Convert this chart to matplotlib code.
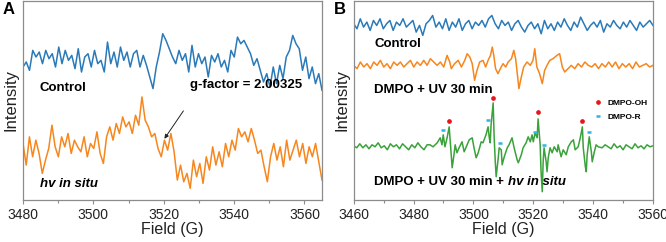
import numpy as np
import matplotlib
matplotlib.use("Agg")
import matplotlib.pyplot as plt
from matplotlib.lines import Line2D

plt.rcParams['font.family'] = ['Liberation Sans', 'DejaVu Sans']

# ---------------- data (arbitrary intensity units) ----------------
A_FIELD_RANGE = (3480, 3565)
A_CONTROL = [-15, 0, -25, 35, 15, 30, -5, 35, 10, 25, -15, 45, -5, 35, 5, 20, -20, 40, -30, 15,
             25, -15, 35, -5, 5, -30, 60, -5, 30, -15, 45, 5, 30, -15, 25, 35, -15, 20, -10, -45,
             -80, -15, 30, 85, 65, 40, 15, -5, 35, 5, 25, -30, 50, -15, 25, -5, 15, -45, 20, 0,
             25, -15, 5, -30, 35, 15, 75, 55, 65, 45, 25, -10, 10, -25, -60, -35, -75, -15, -65, -10,
             -50, 15, 35, 80, 55, 40, -25, 15, -50, -15, -65, -35, -85]
A_HV = [20, -45, 40, -20, 30, -10, -70, -30, 5, 75, 10, -20, 40, 10, 50, -10, 30, 10, -5, 40,
        -20, 20, 5, 55, -10, -40, 40, 70, 30, 80, 50, 100, 70, 85, 50, 105, 75, 160, 90, 70,
        40, 50, 5, -20, 30, 0, 50, -5, -90, -45, -95, -70, -115, -30, -80, -40, -100, -20, -60, 10,
        -45, -5, -50, 20, -20, 30, 0, 65, 40, 55, 25, 65, 30, -10, 0, -50, -95, -20, 20, -30,
        10, -50, 30, -30, 0, 30, -20, 20, -40, 10, -20, 20, -35, -90]
A_GFACTOR_FIELD = 3520.2
A_GFACTOR_LABEL = "g-factor = 2.00325"

B_FIELD_RANGE = (3460, 3560)
B_CONTROL = [5, -10, 20, -5, 10, -15, 15, 0, 20, -10, 5, 15, -15, 10, 0, 20, -5, 5, 15, -20,
             0, -30, 5, 15, 30, -5, 10, -10, 20, -15, 10, -5, 20, -15, 5, 15, -10, 10, 0, 15,
             -5, 20, 30, 5, -10, 15, 0, 10, -15, 5, 15, -5, -20, 0, 10, -10, 5, -25, 15, -10,
             5, -15, 10, -5, 20, 0, -15, 10, -5, 25, 5, -15, 0, 10, -5, 15, -20, 5, -5, 15,
             0, -10, 10, -5, 15, 0, -15, 10, -5, 5, 15, 0]

B_UV_HEAD = [0, -10, 10, -5, 5, -10, 10, 0, 15, -5, 5, -10, 10, 0, 10, -5, 5, 15, -5, 10,
             0, 15, 0, 20, 10, 0, 10, -5, 30]
B_UV_HEAD_RANGE = (3460, 3491.2)
B_UV_MID_FIELD = [3492.1, 3492.6, 3493.7, 3494.9, 3496.0, 3497.1, 3497.9, 3498.8, 3499.6, 3500.4,
                  3501.2, 3502.1, 3503.2, 3504.1, 3504.9, 3505.7, 3506.3, 3506.8, 3507.4, 3508.2,
                  3509.0, 3509.9, 3510.8, 3511.6, 3512.7, 3513.5, 3514.1, 3514.6, 3515.2, 3516.0,
                  3516.8, 3517.9, 3519.0, 3519.9, 3520.5, 3521.2, 3522.1, 3523.0, 3523.8, 3524.6,
                  3525.5, 3526.6, 3527.9, 3528.8, 3529.7, 3530.5, 3531.6]
B_UV_MID = [10, -10, 5, 15, -5, 15, 35, 25, 5, -45, -15, 10, 15, -5, 15, 30, 55, 30, -10, -25,
            -10, 5, -5, 10, 20, 45, 20, -20, -70, -35, -5, 10, 0, 15, 50, -5, -25, -55, -15, 0,
            15, 20, 30, 35, -5, -20, -10]
B_UV_TAIL = [0, -10, 5, -5, 10, 0, -5, 5, -10, 5, -5, 10, -5, 10, -10, 5, -5, 5, -10, 10,
             -5, 0, 5, -5, 0]
B_UV_TAIL_RANGE = (3532.7, 3560)

B_HV_HEAD = [3, -3, 9, -3, 6, -6, 6, 0, 12, -3, 3, -9, 9, 0, 6, -6, 9, 0, -9, 6, -3, 12, 0, -9, 6]
B_HV_HEAD_RANGE = (3460, 3484.5)
B_HV_MID_FIELD = [3485.5, 3486.5, 3487.9, 3488.9, 3489.5, 3489.9, 3490.5, 3491.2, 3491.9, 3492.5,
                  3492.9, 3493.5, 3493.9, 3494.5, 3495.2, 3496.2, 3496.9, 3497.9, 3498.6, 3499.6,
                  3500.2, 3500.9, 3501.6, 3502.6, 3503.2, 3504.2, 3504.9, 3505.3, 3505.6, 3505.9,
                  3506.6, 3506.9, 3507.3, 3507.6, 3508.3, 3508.6, 3509.3, 3509.6, 3510.3, 3511.3,
                  3511.9, 3512.9, 3513.6, 3514.6, 3515.0, 3516.0, 3516.6, 3517.6, 3518.3, 3519.0,
                  3519.6, 3520.0, 3520.6, 3521.3, 3521.6, 3522.3, 3522.6, 3523.0, 3523.3, 3523.6,
                  3524.3, 3524.6, 3525.0, 3525.6, 3526.3, 3527.0, 3528.0, 3528.3, 3529.3, 3530.0,
                  3531.0, 3531.7, 3532.7, 3533.4, 3534.0, 3535.0, 3535.7, 3536.4, 3536.7, 3537.4,
                  3537.7, 3538.0, 3538.7, 3539.4, 3539.7, 3540.4, 3541.0, 3541.7]
B_HV_MID = [6, 0, 12, 27, 6, 36, 0, 27, 60, -15,
            -63, -24, 6, -18, -3, 15, -15, 6, 21, 27,
            -3, -33, -18, 15, 12, 36, 60, 27, 12, 66,
            132, 36, -45, -90, -33, -3, -9, -54, -30, -3,
            6, 27, -3, -39, -48, -24, -3, 12, 30, 15,
            36, 15, 42, 27, 84, 6, -75, -135, -45, -3,
            -45, -75, -33, -3, -18, 0, -15, 6, -30, -9,
            -24, 0, 15, 21, -9, 0, 27, 60, -3, -60,
            -75, -24, 30, -15, -45, -15, 6, 0]
B_HV_TAIL = [-3, 6, 0, -6, 9, -3, 3, -9, 6, 0, -6, 9, -3, 3, -6, 6, 0, 3]
B_HV_TAIL_RANGE = (3543, 3560)

OH_FIELD = [3491.9, 3506.6, 3521.6, 3536.4]
OH_LEVEL = [78, 147, 105, 78]
R_FIELD = [3489.9, 3504.9, 3508.9, 3520.6, 3523.6, 3538.7]
R_LEVEL = [51, 81, 12, 45, 6, 45]

# ---------------- style ----------------
BLUE = '#2a7ab9'
ORANGE = '#f7861c'
GREEN = '#3aa23a'
RED = '#e8161c'
CYAN = '#2fb4e6'
SPINE = '#8c8c8c'
TXT = 9.5

fig = plt.figure(figsize=(6.66, 2.42), dpi=100)
axA = fig.add_axes([23/666, 42/242, 299/666, 199.5/242])
axB = fig.add_axes([353.7/666, 42/242, 299.3/666, 199.5/242])


def style(ax, xlim, major, minor):
    ax.set_xlim(*xlim)
    ax.set_ylim(0, 600)
    ax.set_yticks([])
    ax.set_xticks(major)
    ax.set_xticks(minor, minor=True)
    for s in ax.spines.values():
        s.set_color(SPINE)
        s.set_linewidth(0.9)
    ax.tick_params(axis='x', which='major', direction='out', length=3, width=0.8,
                   color=SPINE, labelsize=10, pad=2.5, labelcolor='#222222')
    ax.tick_params(axis='x', which='minor', direction='out', length=2, width=0.8, color=SPINE)
    ax.set_xlabel('Field (G)', fontsize=11.5, labelpad=0, color='#222222')
    ax.set_ylabel('Intensity', fontsize=12, labelpad=3, color='#222222')


# Panel A
fa = np.linspace(*A_FIELD_RANGE, len(A_CONTROL))
fh = np.linspace(*A_FIELD_RANGE, len(A_HV))
axA.plot(fa, 415 + np.array(A_CONTROL), color=BLUE, lw=1.1)
axA.plot(fh, 150 + np.array(A_HV), color=ORANGE, lw=1.1)
style(axA, A_FIELD_RANGE, np.arange(3480, 3561, 20), np.arange(3490, 3565, 20))
axA.text(3484.8, 338, 'Control', fontsize=TXT, fontweight='bold', va='center', ha='left')
axA.text(3484.8, 48, 'hv in situ', fontsize=TXT, fontweight='bold', style='italic',
         va='center', ha='left')
gy = 150 + np.interp(A_GFACTOR_FIELD, fh, A_HV)
axA.annotate('', xy=(A_GFACTOR_FIELD, gy + 5), xytext=(3525.6, 268),
             arrowprops=dict(arrowstyle='-|>', color='#222222', lw=0.7,
                             mutation_scale=6, shrinkA=0, shrinkB=0))
axA.text(3527.4, 345, A_GFACTOR_LABEL, fontsize=TXT, fontweight='bold', va='center', ha='left')

# Panel B
fbc = np.linspace(*B_FIELD_RANGE, len(B_CONTROL))
axB.plot(fbc, 525 + np.array(B_CONTROL), color=BLUE, lw=1.1)
uv_f = np.concatenate([np.linspace(*B_UV_HEAD_RANGE, len(B_UV_HEAD)), B_UV_MID_FIELD,
                       np.linspace(*B_UV_TAIL_RANGE, len(B_UV_TAIL))])
uv_v = np.concatenate([B_UV_HEAD, B_UV_MID, B_UV_TAIL])
axB.plot(uv_f, 405 + uv_v, color=ORANGE, lw=1.1)
hv_f = np.concatenate([np.linspace(*B_HV_HEAD_RANGE, len(B_HV_HEAD)), B_HV_MID_FIELD,
                       np.linspace(*B_HV_TAIL_RANGE, len(B_HV_TAIL))])
hv_v = np.concatenate([B_HV_HEAD, B_HV_MID, B_HV_TAIL])
axB.plot(hv_f, 160 + hv_v, color=GREEN, lw=1.1)
axB.plot(OH_FIELD, 160 + np.array(OH_LEVEL), 'o', color=RED, ms=3.4, mec='none')
axB.plot(R_FIELD, 160 + np.array(R_LEVEL), '_', color=CYAN, ms=3.5, mew=1.8)
style(axB, B_FIELD_RANGE, np.arange(3460, 3561, 20), np.arange(3470, 3560, 20))

axB.text(3466.8, 470, 'Control', fontsize=TXT, fontweight='bold', va='center', ha='left')
axB.text(3466.8, 332, 'DMPO + UV 30 min', fontsize=TXT, fontweight='bold', va='center', ha='left')
t1 = axB.text(3466.8, 55, 'DMPO + UV 30 min + ', fontsize=TXT, fontweight='bold',
              va='center', ha='left')
axB.annotate('hv in situ', xy=(1, 0.5), xycoords=t1, va='center', ha='left',
             fontsize=TXT, fontweight='bold', style='italic')

handles = [Line2D([], [], ls='none', marker='o', color=RED, ms=3.4, mec='none'),
           Line2D([], [], ls='none', marker='_', color=CYAN, ms=3.5, mew=1.8)]
axB.legend(handles, ['DMPO-OH', 'DMPO-R'], loc='upper left', bbox_to_anchor=(0.785, 0.525),
           frameon=False, prop={'size': 6, 'weight': 'bold'}, handlelength=1.2,
           handletextpad=0.6, labelspacing=0.75, borderpad=0)

fig.text(3/666, 1 - 10/242, 'A', fontsize=12, fontweight='bold', va='center', ha='left')
fig.text(334/666, 1 - 10/242, 'B', fontsize=12, fontweight='bold', va='center', ha='left')

fig.savefig('out.png', dpi=100)
